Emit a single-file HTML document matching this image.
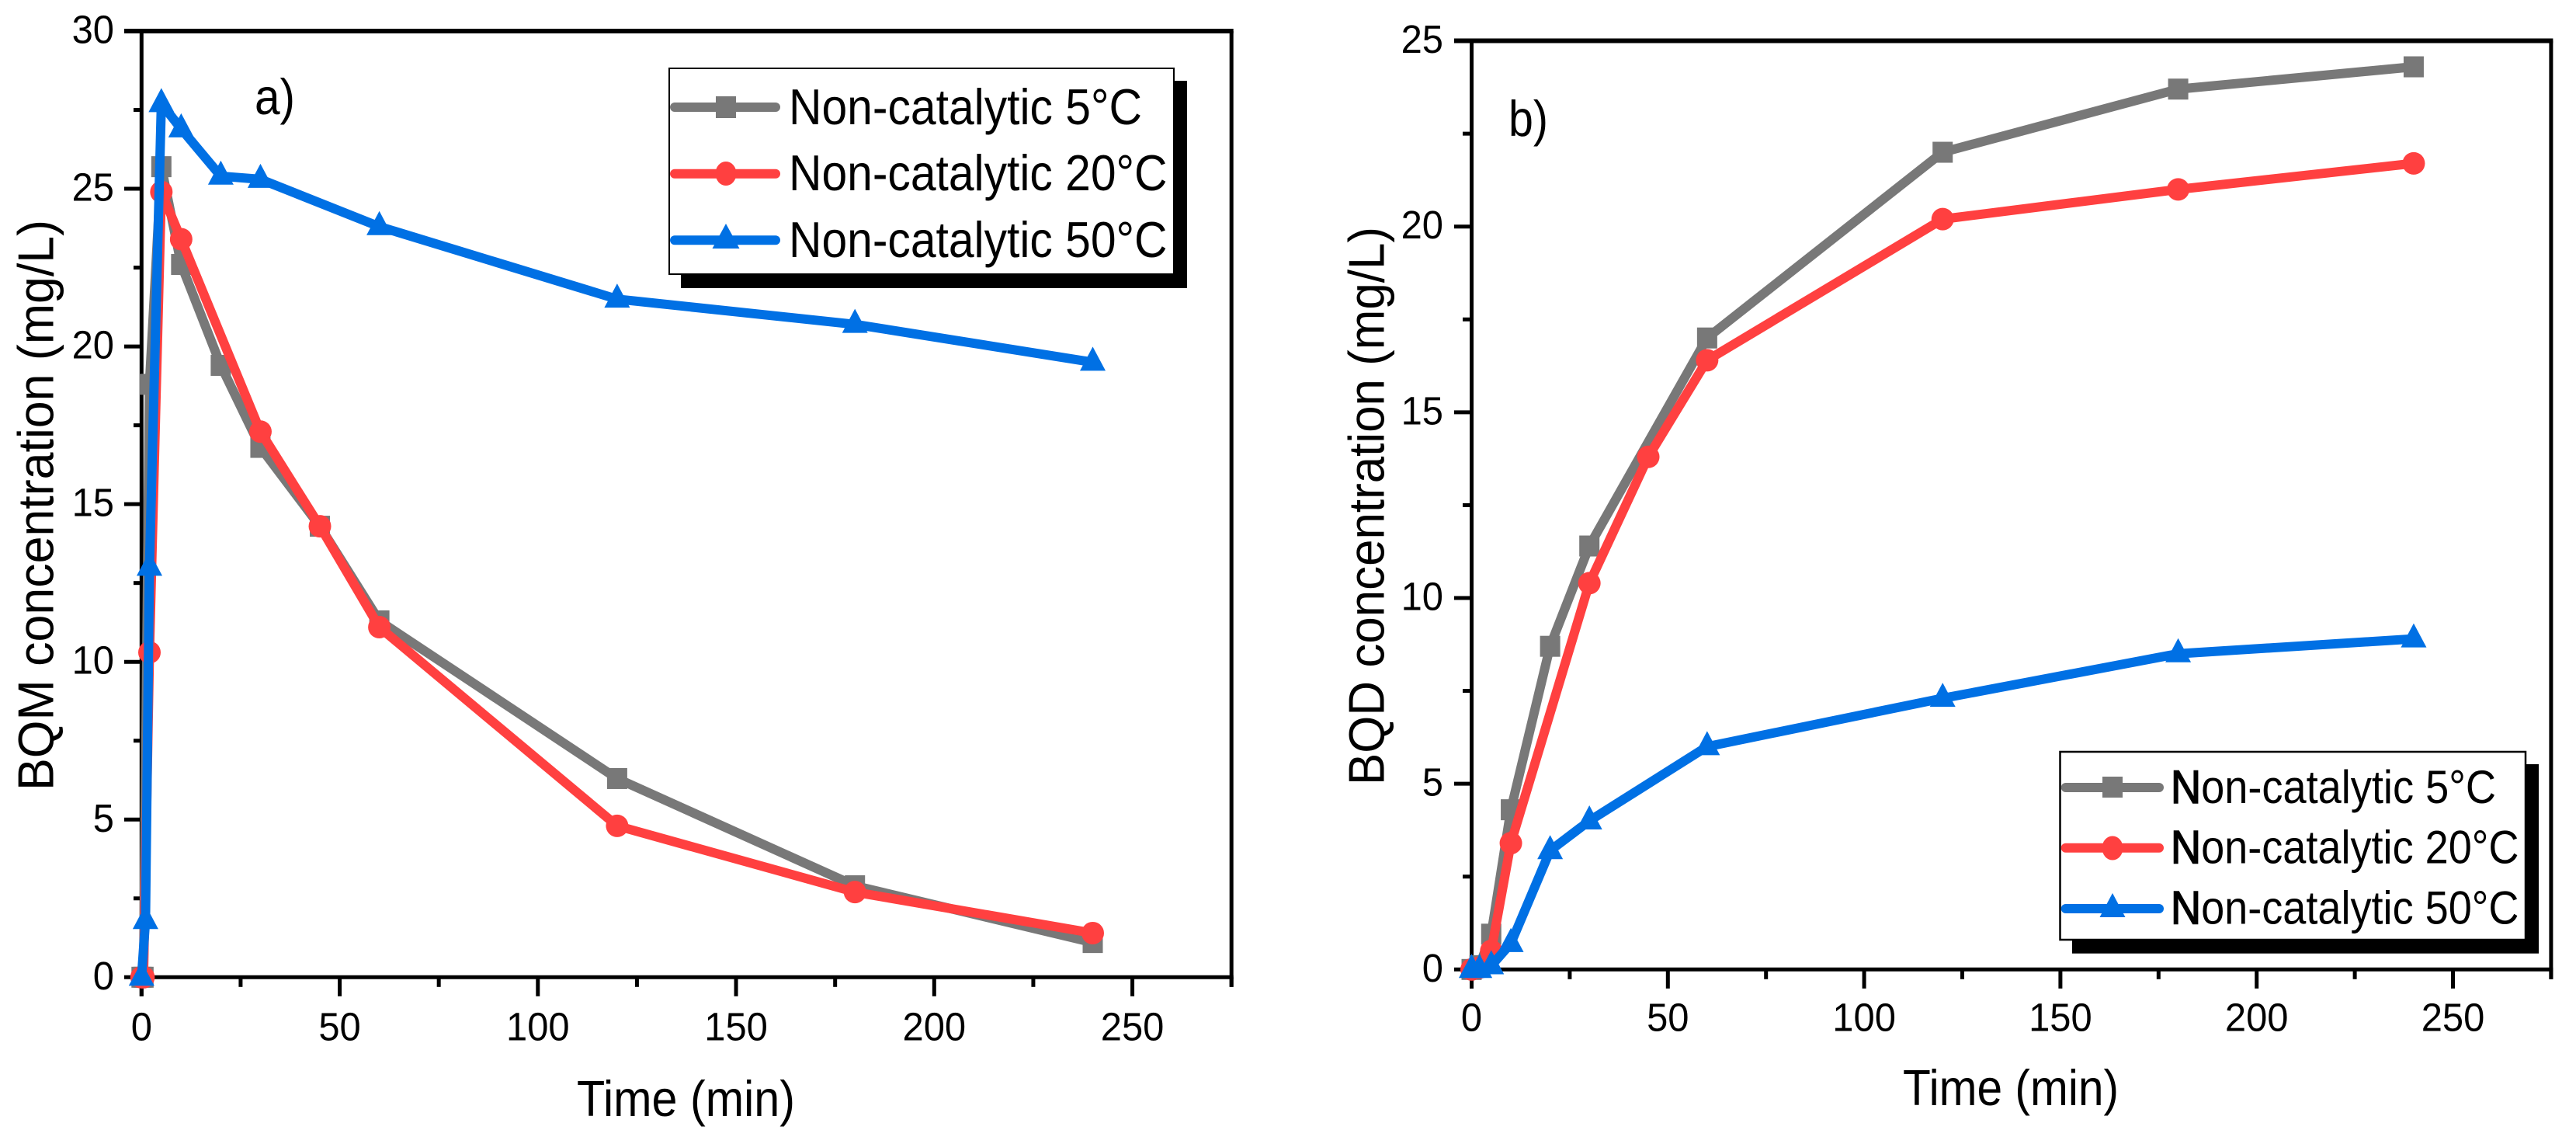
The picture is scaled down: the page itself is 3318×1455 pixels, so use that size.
<!DOCTYPE html>
<html lang="en">
<head>
<meta charset="utf-8">
<title>BQM and BQD concentration over time</title>
<style>
  html, body { margin: 0; padding: 0; background: #fff; }
  svg { display: block; }
  text { font-family: "Liberation Sans", sans-serif; fill: #000; }
</style>
</head>
<body>
<svg id="figure" xmlns="http://www.w3.org/2000/svg" width="3318" height="1455" viewBox="0 0 3318 1455">
  <rect x="0" y="0" width="3318" height="1455" fill="#fff"/>

  <g id="panel-a">
    <g id="a-axes"></g>
    <text transform="translate(68.3 1018) rotate(-90)" font-size="65" textLength="735" lengthAdjust="spacingAndGlyphs">BQM concentration (mg/L)</text>
    <text x="743" y="1437" font-size="65" textLength="281" lengthAdjust="spacingAndGlyphs">Time (min)</text>
    <text x="328" y="147" font-size="65" textLength="52" lengthAdjust="spacingAndGlyphs">a)</text>
    <g id="a-series-5"></g>
    <g id="a-series-20"></g>
    <g id="a-series-50"></g>
    <g>
      <rect x="877" y="104" width="652" height="267" fill="#000"/>
      <rect x="862" y="88" width="650" height="265" fill="#fff" stroke="#000" stroke-width="2"/>
      <g>
        <line x1="869" y1="138" x2="999" y2="138" stroke="#787878" stroke-width="12" stroke-linecap="round"/>
        <rect x="922" y="124" width="26" height="28" fill="#787878"/>
        <text x="1016" y="160" font-size="65" textLength="455" lengthAdjust="spacingAndGlyphs">Non-catalytic 5°C</text>
      </g>
      <g>
        <line x1="869" y1="223.7" x2="999" y2="223.7" stroke="#ff4040" stroke-width="12" stroke-linecap="round"/>
        <ellipse cx="935" cy="223.5" rx="13.5" ry="15.5" fill="#ff4040"/>
        <text x="1016" y="245" font-size="65" textLength="487.5" lengthAdjust="spacingAndGlyphs">Non-catalytic 20°C</text>
      </g>
      <g>
        <line x1="869" y1="309.3" x2="999" y2="309.3" stroke="#0070e4" stroke-width="12" stroke-linecap="round"/>
        <polygon points="935,288 952.5,320 917.5,320" fill="#0070e4"/>
        <text x="1016" y="331" font-size="65" textLength="487.5" lengthAdjust="spacingAndGlyphs">Non-catalytic 50°C</text>
      </g>
    </g>
  </g>

  <g id="panel-b">
    <g id="b-axes"></g>
    <text transform="translate(1782.3 1011) rotate(-90)" font-size="65" textLength="719" lengthAdjust="spacingAndGlyphs">BQD concentration (mg/L)</text>
    <text x="2451" y="1423" font-size="65" textLength="278" lengthAdjust="spacingAndGlyphs">Time (min)</text>
    <text x="1943" y="175" font-size="65" textLength="51" lengthAdjust="spacingAndGlyphs">b)</text>
    <g id="b-series-5"></g>
    <g id="b-series-20"></g>
    <g id="b-series-50"></g>
    <g>
      <rect x="2669" y="984" width="601" height="243.7" fill="#000"/>
      <rect x="2653.5" y="968" width="599.5" height="242" fill="#fff" stroke="#000" stroke-width="2.5"/>
      <g>
        <line x1="2660.7" y1="1014" x2="2781" y2="1014" stroke="#787878" stroke-width="12" stroke-linecap="round"/>
        <rect x="2708" y="1000" width="26" height="27" fill="#787878"/>
        <text x="2796" y="1034" font-size="60" textLength="419" lengthAdjust="spacingAndGlyphs"><tspan stroke="#000" stroke-width="1.6">N</tspan>on-catalytic 5°C</text>
      </g>
      <g>
        <line x1="2660.7" y1="1091.7" x2="2781" y2="1091.7" stroke="#ff4040" stroke-width="12" stroke-linecap="round"/>
        <ellipse cx="2721" cy="1092" rx="13.5" ry="15.5" fill="#ff4040"/>
        <text x="2796" y="1111.7" font-size="60" textLength="448.5" lengthAdjust="spacingAndGlyphs"><tspan stroke="#000" stroke-width="1.6">N</tspan>on-catalytic 20°C</text>
      </g>
      <g>
        <line x1="2660.7" y1="1170" x2="2781" y2="1170" stroke="#0070e4" stroke-width="12" stroke-linecap="round"/>
        <polygon points="2721,1150 2737.5,1181 2704.5,1181" fill="#0070e4"/>
        <text x="2796" y="1189.3" font-size="60" textLength="448.5" lengthAdjust="spacingAndGlyphs"><tspan stroke="#000" stroke-width="1.6">N</tspan>on-catalytic 50°C</text>
      </g>
    </g>
  </g>
</svg>

<script>
// Shared tick values
const xTickLabels = [0, 50, 100, 150, 200, 250];
const xMinorTicks = [25, 75, 125, 175, 225, 275];

// Panel a) BQM
const aYTickLabels = [0, 5, 10, 15, 20, 25, 30];
const aYMinorTicks = [2.5, 7.5, 12.5, 17.5, 22.5, 27.5];
const aTime5 = [0, 0.5, 2, 5, 10, 20, 30, 45, 60, 120, 180, 240];
const aBqm5 = [0, 0, 18.8, 25.7, 22.6, 19.4, 16.8, 14.3, 11.3, 6.3, 2.9, 1.1];
const aTime20 = [0, 0.5, 2, 5, 10, 30, 45, 60, 120, 180, 240];
const aBqm20 = [0, 0, 10.3, 24.9, 23.4, 17.3, 14.3, 11.1, 4.8, 2.7, 1.4];
const aTime50 = [0, 1, 2, 5, 10, 20, 30, 60, 120, 180, 240];
const aBqm50 = [0, 1.8, 13.0, 27.7, 26.9, 25.4, 25.3, 23.8, 21.5, 20.7, 19.5];

// Panel b) BQD
const bYTickLabels = [0, 5, 10, 15, 20, 25];
const bYMinorTicks = [2.5, 7.5, 12.5, 17.5, 22.5];
const bTime5 = [0, 2, 5, 10, 20, 30, 60, 120, 180, 240];
const bBqd5 = [0, 0.1, 0.95, 4.3, 8.7, 11.4, 17.0, 22.0, 23.7, 24.3];
const bTime20 = [0, 2, 5, 10, 30, 45, 60, 120, 180, 240];
const bBqd20 = [0, 0.05, 0.5, 3.4, 10.4, 13.8, 16.4, 20.2, 21.0, 21.7];
const bTime50 = [0, 2, 5, 10, 20, 30, 60, 120, 180, 240];
const bBqd50 = [0, 0, 0.1, 0.7, 3.2, 4.0, 6.0, 7.3, 8.5, 8.9];

const SVG_NS = 'http://www.w3.org/2000/svg';

function make(parent, tag, attrs) {
  const el = document.createElementNS(SVG_NS, tag);
  for (const key in attrs) el.setAttribute(key, attrs[key]);
  parent.appendChild(el);
  return el;
}

function drawAxes(g, ax) {
  const X = ax.X, Y = ax.Y;
  const xMaxPx = X(275), y0 = Y(0), yTop = Y(ax.yMax);

  const top = make(g, 'line', { x1: ax.majorLeft, y1: yTop, x2: xMaxPx + 2.5, y2: yTop, stroke: '#000', 'stroke-width': 6 });
  
  
  const bottom = make(g, 'line', { x1: X(0), y1: y0, x2: xMaxPx + 2.5, y2: y0, stroke: '#000', 'stroke-width': 5 });
  
  
  const left = make(g, 'line', { x1: X(0), y1: yTop, x2: X(0), y2: y0 + 24.5, stroke: '#000', 'stroke-width': 5 });
  
  
  const right = make(g, 'line', { x1: xMaxPx, y1: yTop, x2: xMaxPx, y2: y0 + 12.5, stroke: '#000', 'stroke-width': 5 });
  
  

  xTickLabels.forEach(function (v) {
    const tick = make(g, 'line', { x1: X(v), y1: y0, x2: X(v), y2: y0 + 24.5, stroke: '#000', 'stroke-width': 5 });
    
    
    const label = make(g, 'text', { x: X(v), y: ax.xLabelBase, 'font-size': 51, 'text-anchor': 'middle', textLength: String(v).length * 27.2, lengthAdjust: 'spacingAndGlyphs' });
    label.textContent = String(v);
    
    
  });
  xMinorTicks.forEach(function (v) {
    const tick = make(g, 'line', { x1: X(v), y1: y0, x2: X(v), y2: y0 + 12.5, stroke: '#000', 'stroke-width': 5 });
    
    
  });
  ax.yTicks.forEach(function (v) {
    const tick = make(g, 'line', { x1: ax.majorLeft, y1: Y(v), x2: X(0), y2: Y(v), stroke: '#000', 'stroke-width': 5 });
    
    
    const label = make(g, 'text', { x: ax.yLabelRight, y: Y(v) + 15.5, 'font-size': 51, 'text-anchor': 'end', textLength: String(v).length * 27.2, lengthAdjust: 'spacingAndGlyphs' });
    label.textContent = String(v);
    
    
  });
  ax.yMinor.forEach(function (v) {
    const tick = make(g, 'line', { x1: ax.minorLeft, y1: Y(v), x2: X(0), y2: Y(v), stroke: '#000', 'stroke-width': 5 });
    
    
  });
}

function drawSeries(g, times, values, X, Y, color, shape) {
  const pts = times.map(function (t, i) { return X(t).toFixed(2) + ',' + Y(values[i]).toFixed(2); }).join(' ');
  const line = make(g, 'polyline', { points: pts, fill: 'none', stroke: color, 'stroke-width': 12, 'stroke-linejoin': 'round' });
  
  
  times.forEach(function (t, i) {
    const cx = X(t), cy = Y(values[i]);
    let mark;
    if (shape === 'square') {
      mark = make(g, 'rect', { x: cx - 13, y: cy - 13.5, width: 26, height: 27, fill: color });
    } else if (shape === 'circle') {
      mark = make(g, 'circle', { cx: cx, cy: cy, r: 14.5, fill: color });
    } else {
      mark = make(g, 'polygon', { points: cx + ',' + (cy - 20) + ' ' + (cx + 16.5) + ',' + (cy + 11) + ' ' + (cx - 16.5) + ',' + (cy + 11), fill: color });
    }
    
    
  });
}

// Panel a axis functions
const aX = function (t) { return 182.3 + t * 5.105; };
const aY = function (v) { return 1258.3 - v * 40.61; };
// Panel b axis functions
const bX = function (t) { return 1895.5 + t * 5.056; };
const bY = function (v) { return 1248.3 - v * 47.83; };

drawAxes(document.getElementById('a-axes'), { X: aX, Y: aY, yMax: 30, yTicks: aYTickLabels, yMinor: aYMinorTicks, majorLeft: 160, minorLeft: 172, yLabelRight: 147, xLabelBase: 1339.5 });
drawAxes(document.getElementById('b-axes'), { X: bX, Y: bY, yMax: 25, yTicks: bYTickLabels, yMinor: bYMinorTicks, majorLeft: 1873, minorLeft: 1884, yLabelRight: 1859, xLabelBase: 1327.5 });

drawSeries(document.getElementById('a-series-5'), aTime5, aBqm5, aX, aY, '#787878', 'square');
drawSeries(document.getElementById('a-series-20'), aTime20, aBqm20, aX, aY, '#ff4040', 'circle');
drawSeries(document.getElementById('a-series-50'), aTime50, aBqm50, aX, aY, '#0070e4', 'triangle');
drawSeries(document.getElementById('b-series-5'), bTime5, bBqd5, bX, bY, '#787878', 'square');
drawSeries(document.getElementById('b-series-20'), bTime20, bBqd20, bX, bY, '#ff4040', 'circle');
drawSeries(document.getElementById('b-series-50'), bTime50, bBqd50, bX, bY, '#0070e4', 'triangle');
</script>
</body>
</html>
